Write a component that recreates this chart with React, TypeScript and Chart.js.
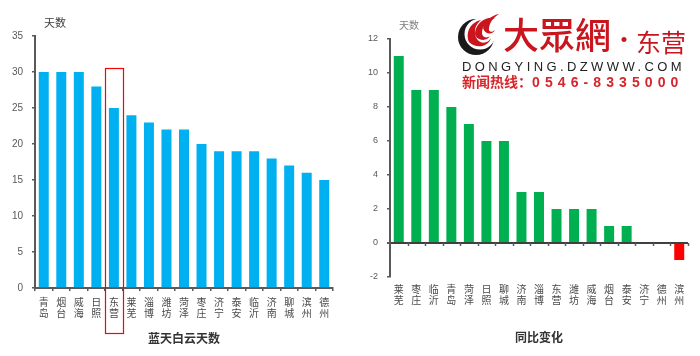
import React, { useEffect, useRef } from 'react';
import { Chart, registerables } from 'chart.js';

Chart.register(...registerables);

// ---- Data ----
const leftCities = ['青岛', '烟台', '威海', '日照', '东营', '莱芜', '淄博', '潍坊', '菏泽', '枣庄', '济宁', '泰安', '临沂', '济南', '聊城', '滨州', '德州'];
const leftDays = [30, 30, 30, 28, 25, 24, 23, 22, 22, 20, 19, 19, 19, 18, 17, 16, 15];
const rightCities = ['莱芜', '枣庄', '临沂', '青岛', '菏泽', '日照', '聊城', '济南', '淄博', '东营', '潍坊', '威海', '烟台', '泰安', '济宁', '德州', '滨州'];
const rightChange = [11, 9, 9, 8, 7, 6, 6, 3, 3, 2, 2, 2, 1, 1, 0, 0, -1];
const leftYRange = [0, 35, 5];
const rightYRange = [-2, 12, 2];
const highlightCity = '东营';
const leftTitle = '蓝天白云天数';
const rightTitle = '同比变化';
const unitLabel = '天数';

const BLUE = '#00B0F0';
const GREEN = '#00B050';
const RED = '#FF0000';
const AXIS = '#595959';
const CJK = '"Noto Sans CJK SC", "Noto Sans", sans-serif';
const NUM = '"Liberation Sans", Arial, sans-serif';

const splitLabel = (s: string) => s.split('');

const highlightPlugin = {
  id: 'highlightBox',
  afterDatasetsDraw(chart: any) {
    const x = chart.scales.x;
    const y = chart.scales.y;
    const idx = leftCities.indexOf(highlightCity);
    if (idx < 0) return;
    const cw = (x.right - x.left) / leftCities.length;
    const cx = x.getPixelForValue(idx);
    const ctx = chart.ctx;
    ctx.save();
    ctx.strokeStyle = RED;
    ctx.lineWidth = 1.2;
    const top = y.getPixelForValue(leftDays[idx] + 5.5);
    const bottom = chart.chartArea.bottom + 45;
    ctx.strokeRect(Math.round(cx - cw / 2) + 0.5, Math.round(top) + 0.5, Math.round(cw), Math.round(bottom - top));
    ctx.restore();
  },
};

const zeroTicksPlugin = {
  id: 'zeroTicks',
  afterDatasetsDraw(chart: any) {
    const x = chart.scales.x;
    const y = chart.scales.y;
    const y0 = y.getPixelForValue(0);
    const n = rightCities.length;
    const cw = (x.right - x.left) / n;
    const ctx = chart.ctx;
    ctx.save();
    ctx.strokeStyle = AXIS;
    ctx.lineWidth = 1.5;
    for (let i = 1; i <= n; i++) {
      const px = Math.round(x.left + i * cw) + 0.5;
      ctx.beginPath();
      ctx.moveTo(px, y0);
      ctx.lineTo(px, y0 + 3);
      ctx.stroke();
    }
    ctx.restore();
  },
};

function makeLeftConfig(): any {
  return {
    type: 'bar',
    data: {
      labels: leftCities.map(splitLabel),
      datasets: [
        {
          data: leftDays,
          backgroundColor: BLUE,
          borderWidth: 0,
          categoryPercentage: 1,
          barPercentage: 0.57,
        },
      ],
    },
    options: {
      responsive: false,
      animation: false,
      devicePixelRatio: 1,
      layout: { padding: { left: 0, right: 17, top: 36, bottom: 0 } },
      plugins: { legend: { display: false }, tooltip: { enabled: false }, title: { display: false } },
      scales: {
        x: {
          afterFit: (s: any) => { s.height = 68; },
          border: { display: true, color: AXIS, width: 2 },
          grid: { display: true, drawOnChartArea: false, drawTicks: true, tickLength: 3, color: AXIS, lineWidth: 1.5, offset: true },
          ticks: { color: '#4a4a4a', font: { family: CJK, size: 10, lineHeight: 1.15 }, padding: 5, maxRotation: 0, autoSkip: false },
        },
        y: {
          min: leftYRange[0],
          max: leftYRange[1],
          afterFit: (s: any) => { s.width = 35; },
          border: { display: true, color: AXIS, width: 2 },
          grid: { display: true, drawOnChartArea: false, drawTicks: true, tickLength: 3, color: AXIS, lineWidth: 1.5 },
          ticks: { stepSize: leftYRange[2], color: AXIS, font: { family: NUM, size: 10 }, padding: 9 },
        },
      },
    },
    plugins: [highlightPlugin],
  };
}

function makeRightConfig(): any {
  return {
    type: 'bar',
    data: {
      labels: rightCities.map(splitLabel),
      datasets: [
        {
          data: rightChange,
          backgroundColor: rightChange.map((v) => (v < 0 ? RED : GREEN)),
          borderWidth: 0,
          categoryPercentage: 1,
          barPercentage: 0.57,
        },
      ],
    },
    options: {
      responsive: false,
      animation: false,
      devicePixelRatio: 1,
      layout: { padding: { left: 0, right: 12, top: 39, bottom: 0 } },
      plugins: { legend: { display: false }, tooltip: { enabled: false }, title: { display: false } },
      scales: {
        x: {
          afterFit: (s: any) => { s.height = 79; },
          border: { display: false },
          grid: { display: true, drawOnChartArea: false, drawTicks: true, tickLength: 3, color: 'rgba(0,0,0,0)' },
          ticks: { color: '#4a4a4a', font: { family: CJK, size: 10, lineHeight: 1.15 }, padding: 3, maxRotation: 0, autoSkip: false },
        },
        y: {
          min: rightYRange[0],
          max: rightYRange[1],
          afterFit: (s: any) => { s.width = 40; },
          border: { display: true, color: AXIS, width: 2 },
          grid: {
            display: true,
            drawOnChartArea: true,
            drawTicks: true,
            tickLength: 3,
            tickColor: AXIS,
            color: (c: any) => (c.tick && c.tick.value === 0 ? '#404040' : 'rgba(0,0,0,0)'),
            lineWidth: (c: any) => (c.tick && c.tick.value === 0 ? 2 : 1.5),
          },
          ticks: { stepSize: rightYRange[2], color: AXIS, font: { family: NUM, size: 9 }, padding: 9 },
        },
      },
    },
    plugins: [zeroTicksPlugin],
  };
}

function ChartCanvas({ makeConfig }: { makeConfig: () => any }) {
  const ref = useRef<HTMLCanvasElement | null>(null);
  useEffect(() => {
    if (!ref.current) return;
    const chart = new Chart(ref.current, makeConfig());
    return () => chart.destroy();
  }, [makeConfig]);
  return <canvas ref={ref} width={350} height={356} style={{ display: 'block', width: 350, height: 356 }} />;
}

function Logo() {
  const red = '#C9151E';
  return (
    <>
      <svg style={{ position: 'absolute', left: 455, top: 12 }} width={48} height={44} viewBox="0 0 48 44">
        <circle cx={21} cy={25} r={18} fill="#1a1a1a" />
        <circle cx={25} cy={22} r={15.5} fill="#ffffff" />
        <path d="M14 30 C 10 20, 16 10, 26 8 C 20 13, 18 20, 22 27 C 25 32, 33 32, 36 26 C 34 34, 22 38, 14 30 Z" fill={red} />
        <path d="M20 22 C 20 12, 30 4, 40 6 C 32 9, 27 14, 27 21 C 27 25, 31 27, 35 24 C 33 29, 22 30, 20 22 Z" fill={red} />
        <path d="M28 16 C 30 9, 37 3, 44 2 C 38 6, 35 10, 34 16 C 33 20, 37 21, 40 18 C 38 23, 30 23, 28 16 Z" fill={red} />
      </svg>
      <div style={{ position: 'absolute', left: 503, top: 10, fontFamily: '"Noto Sans CJK TC", sans-serif', fontWeight: 500, fontSize: 36, lineHeight: '46px', color: red, whiteSpace: 'nowrap' }}>大眾網</div>
      <div style={{ position: 'absolute', left: 612, top: 24, fontFamily: CJK, fontSize: 24, lineHeight: '28px', color: red }}>·</div>
      <div style={{ position: 'absolute', left: 636, top: 27, fontFamily: CJK, fontSize: 25, lineHeight: '28px', color: red, whiteSpace: 'nowrap' }}>东营</div>
      <div style={{ position: 'absolute', left: 462, top: 59, fontFamily: NUM, fontSize: 13, lineHeight: '16px', letterSpacing: '3.4px', color: '#222', whiteSpace: 'nowrap' }}>DONGYING.DZWWW.COM</div>
      <div style={{ position: 'absolute', left: 462, top: 72, fontFamily: CJK, fontWeight: 700, fontSize: 14, lineHeight: '18px', color: '#D7262B', whiteSpace: 'nowrap' }}>
        新闻热线：<span style={{ fontFamily: NUM, letterSpacing: '5.1px' }}>0546-8335000</span>
      </div>
    </>
  );
}

export default function App() {
  return (
    <div style={{ position: 'fixed', left: 0, top: 0, width: 700, height: 356, background: '#fff', overflow: 'hidden' }}>
      <div style={{ position: 'absolute', left: 0, top: 0 }}>
        <ChartCanvas makeConfig={makeLeftConfig} />
      </div>
      <div style={{ position: 'absolute', left: 350, top: 0 }}>
        <ChartCanvas makeConfig={makeRightConfig} />
      </div>
      <div style={{ position: 'absolute', left: 44, top: 14, fontFamily: CJK, fontSize: 11, lineHeight: '16px', color: '#404040' }}>{unitLabel}</div>
      <div style={{ position: 'absolute', left: 399, top: 17, fontFamily: CJK, fontSize: 10, lineHeight: '16px', color: '#7f7f7f' }}>{unitLabel}</div>
      <div style={{ position: 'absolute', left: 84, width: 200, top: 329, textAlign: 'center', fontFamily: CJK, fontWeight: 700, fontSize: 12, lineHeight: '18px', color: '#333' }}>{leftTitle}</div>
      <div style={{ position: 'absolute', left: 439, width: 200, top: 328, textAlign: 'center', fontFamily: CJK, fontWeight: 700, fontSize: 12, lineHeight: '18px', color: '#333' }}>{rightTitle}</div>
      <Logo />
    </div>
  );
}
